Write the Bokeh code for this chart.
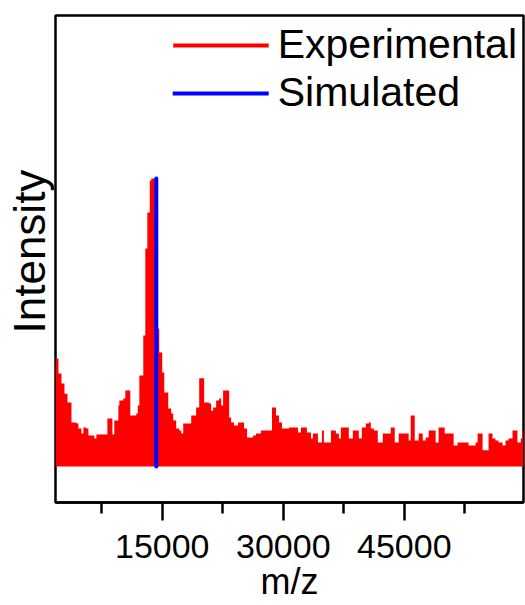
import math
from bokeh.plotting import figure
from bokeh.models import (Range1d, FixedTicker, Legend, LegendItem, Title,
                          ColumnDataSource)
from bokeh.embed import file_html
from bokeh.resources import INLINE

# ---- data ----
exp_mz = [1780, 2140, 2510, 2880, 3250, 3750, 4370, 4610, 4980, 5230, 5600,
          5850, 6590, 6840, 8200, 8820, 9060, 9560, 9680, 10180, 10420, 11040,
          11780, 11970, 12160, 12650, 12900, 13150, 13450, 13640, 14470, 14630,
          15000, 15250, 15740, 16110, 16360, 16730, 17100, 17350, 17600, 18590,
          19200, 19580, 20190, 20810, 21060, 21310, 21680, 22050, 22300, 22540,
          23290, 23530, 23900, 24400, 25140, 25510, 26250, 26620, 27240, 28600,
          29100, 29470, 29840, 30710, 31820, 32190, 32930, 33430, 33670, 34290,
          34790, 35030, 35900, 36520, 36890, 37140, 38120, 38620, 39360, 39730,
          40230, 40600, 40850, 41220, 41710, 42330, 43320, 43810, 44310, 45540,
          45790, 46290, 46780, 47280, 47650, 48020, 48880, 49250, 50000, 51110,
          51600, 52960, 53830, 54080, 54700, 55440, 55930, 56300, 56670, 57170,
          57540, 57910, 58410, 59020, 59430, 59640, 59800]
exp_int = [0.375, 0.323, 0.288, 0.253, 0.222, 0.153, 0.149, 0.132, 0.115, 0.135,
           0.132, 0.108, 0.097, 0.111, 0.167, 0.111, 0.160, 0.212, 0.229, 0.236,
           0.264, 0.177, 0.184, 0.212, 0.316, 0.455, 0.757, 0.882, 0.993, 1.000,
           0.479, 0.396, 0.326, 0.257, 0.201, 0.184, 0.160, 0.132, 0.125, 0.115,
           0.149, 0.177, 0.205, 0.306, 0.222, 0.219, 0.194, 0.205, 0.229, 0.236,
           0.212, 0.264, 0.170, 0.153, 0.142, 0.153, 0.132, 0.101, 0.108, 0.115,
           0.125, 0.205, 0.177, 0.153, 0.132, 0.135, 0.118, 0.135, 0.118, 0.097,
           0.115, 0.083, 0.125, 0.083, 0.125, 0.115, 0.097, 0.135, 0.097, 0.125,
           0.097, 0.135, 0.149, 0.153, 0.132, 0.125, 0.083, 0.115, 0.135, 0.083,
           0.115, 0.090, 0.177, 0.090, 0.115, 0.090, 0.101, 0.125, 0.083, 0.135,
           0.115, 0.073, 0.083, 0.073, 0.083, 0.115, 0.056, 0.115, 0.097, 0.090,
           0.083, 0.073, 0.090, 0.097, 0.125, 0.083, 0.097, 0.125, 0.125]
exp_base = [0.0] * len(exp_mz)

sim_mz = [14260]
sim_int = [1.0]
sim_base = [0.0]

tick_values = [15000, 30000, 45000]
tick_labels = ["15000", "30000", "45000"]
minor_tick_values = [7500, 22500, 37500, 52500]

series_names = ["Experimental", "Simulated"]
x_title = "m/z"
y_title = "Intensity"

FONT = "Liberation Sans"

p = figure(width=525, height=605, output_backend="svg", toolbar_location=None,
           x_range=Range1d(1770, 59770), y_range=Range1d(-0.125, 1.566),
           y_axis_location=None,
           min_border_left=54, min_border_right=2, min_border_top=15,
           min_border_bottom=103)
p.background_fill_color = "white"
p.border_fill_color = "white"
p.outline_line_color = "black"
p.outline_line_width = 2.5
p.xgrid.visible = False
p.ygrid.visible = False

exp_src = ColumnDataSource(dict(x=exp_mz, y1=exp_base, y2=exp_int))
p.varea_step(x="x", y1="y1", y2="y2", step_mode="after", source=exp_src,
             fill_color="#FF0000")

sim_src = ColumnDataSource(dict(x0=sim_mz, y0=sim_base, x1=sim_mz, y1=sim_int))
sim_r = p.segment(x0="x0", y0="y0", x1="x1", y1="y1", source=sim_src,
                  line_color="#0000FF", line_width=4, line_cap="round")

# legend-only line renderer (no visible data)
leg_src = ColumnDataSource(dict(x=[float("nan")], y=[float("nan")]))
exp_leg = p.line(x="x", y="y", source=leg_src, line_color="#FF0000",
                 line_width=4)

ax = p.xaxis[0]
ax.ticker = FixedTicker(ticks=tick_values, minor_ticks=minor_tick_values)
ax.major_label_overrides = dict(zip(tick_values, tick_labels))
ax.axis_line_color = "black"
ax.axis_line_width = 2.5
ax.major_tick_line_width = 2.5
ax.minor_tick_line_width = 2.5
ax.major_tick_out = 18
ax.major_tick_in = 0
ax.minor_tick_out = 11
ax.minor_tick_in = 0
ax.major_label_text_font = FONT
ax.major_label_text_font_size = "34px"
ax.major_label_text_color = "black"
ax.major_label_standoff = 14
ax.axis_label = x_title
ax.axis_label_text_font = FONT
ax.axis_label_text_font_size = "36px"
ax.axis_label_text_font_style = "normal"
ax.axis_label_text_color = "black"
ax.axis_label_standoff = 0

legend = Legend(items=[LegendItem(label=series_names[0], renderers=[exp_leg]),
                       LegendItem(label=series_names[1], renderers=[sim_r])],
                location="top_right", border_line_color=None,
                background_fill_alpha=0, label_text_font=FONT,
                label_text_font_size="41px", label_text_color="black",
                glyph_width=96, glyph_height=40, label_height=40,
                label_standoff=9, spacing=1, padding=0, margin=6)
p.add_layout(legend)

p.add_layout(Title(text=y_title, align="left", offset=169, text_font=FONT,
                   text_font_size="44px", text_font_style="normal",
                   text_color="black", standoff=4), "left")

open("out.html", "w").write(file_html(p, INLINE))
